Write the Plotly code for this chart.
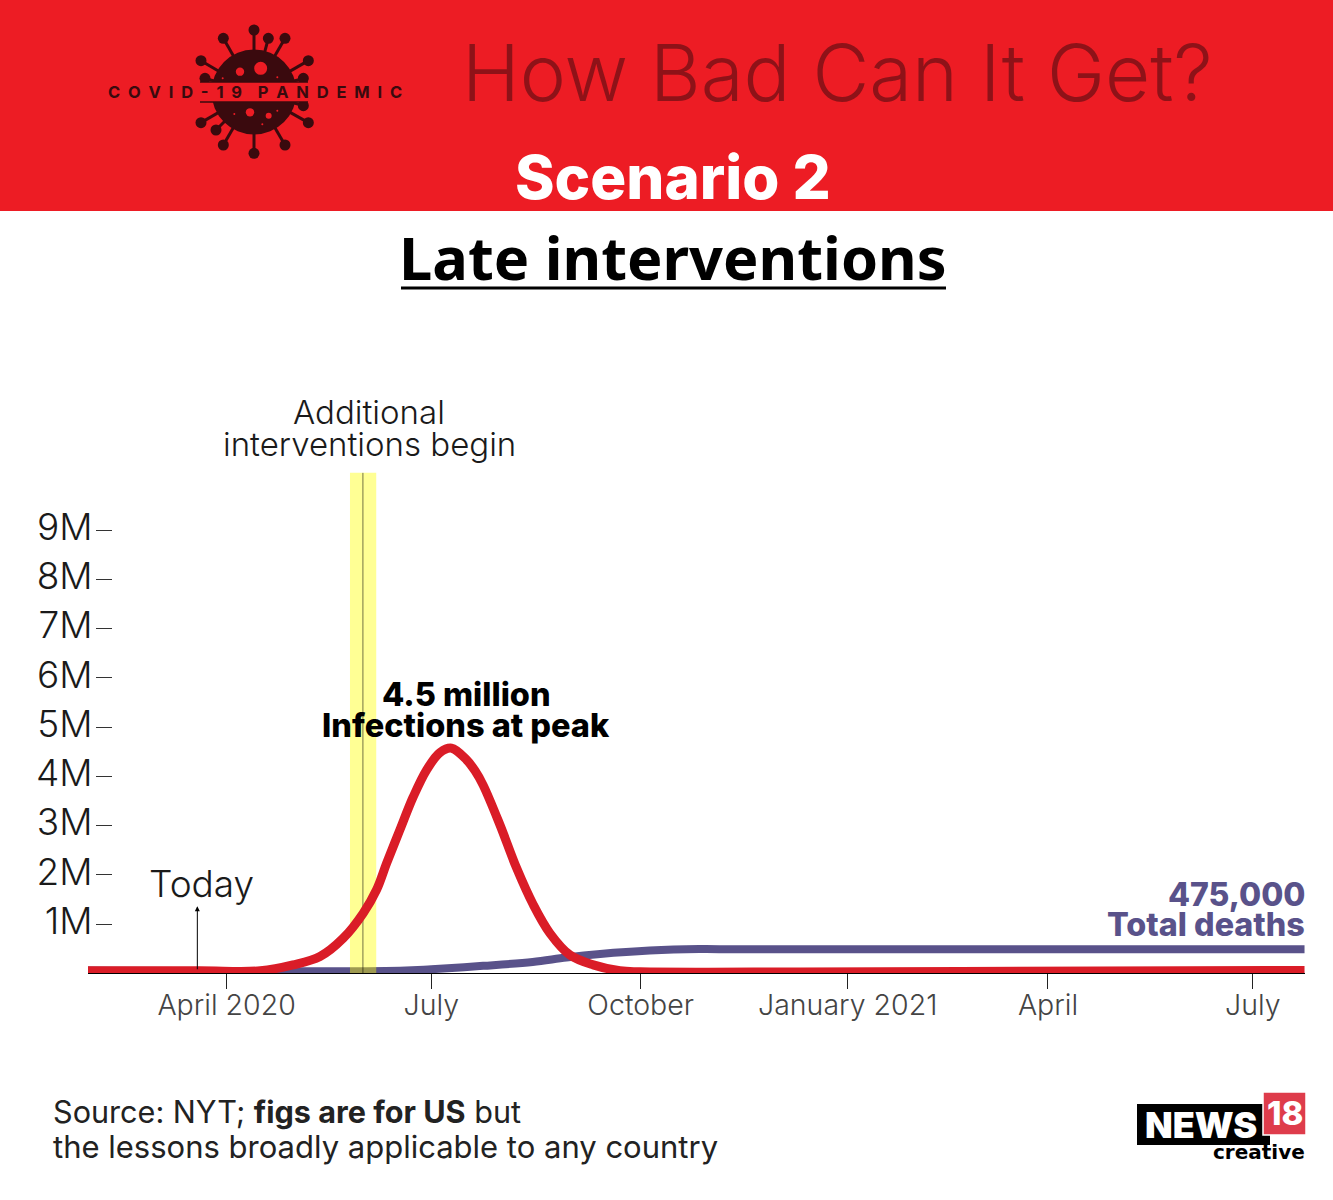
import plotly.graph_objects as go

# ---------- data ----------
infection_dates = ["2020-01-30","2020-03-20","2020-04-16","2020-04-30 12:00","2020-05-12 12:00","2020-05-22 19:00","2020-05-31 17:00",
                   "2020-06-06 17:00","2020-06-11 02:00","2020-06-17","2020-06-22 22:00","2020-06-28 22:00","2020-07-04 19:00","2020-07-10",
                   "2020-07-16 17:00","2020-07-20 10:00","2020-07-24","2020-07-31 12:00","2020-08-07 22:00","2020-08-15 07:00","2020-08-22 17:00",
                   "2020-08-31 14:00","2020-09-10 22:00","2020-09-22 19:00","2020-10-01 17:00","2020-12-12","2021-04-24","2021-07-24"]
infections_m = [0.05,0.05,0.05,0.17,0.34,0.71,1.22,1.70,2.23,2.91,3.58,4.13,4.48,4.57,4.33,4.11,3.82,3.01,2.13,1.39,0.81,
                0.37,0.17,0.05,0.03,0.025,0.045,0.055]
death_dates = ["2020-01-30","2020-06-17","2020-07-01","2020-07-24","2020-08-15","2020-08-30","2020-09-14",
               "2020-10-06","2020-10-28","2020-11-12","2020-12-12","2021-07-24"]
deaths_m = [0.055,0.05,0.08,0.15,0.23,0.32,0.39,0.46,0.49,0.487,0.487,0.487]
x_tick_dates = ["2020-04-01","2020-07-01","2020-10-02","2021-01-02","2021-04-01","2021-07-01"]
x_tick_labels = ["April 2020","July","October","January 2021","April","July"]
y_tick_vals = [1,2,3,4,5,6,7,8,9]
y_tick_labels = ["1M","2M","3M","4M","5M","6M","7M","8M","9M"]
x_range = ["2020-01-30 10:00","2021-07-24 05:00"]
band_dates = ["2020-05-25 20:00","2020-06-06 12:00"]
intervention_date = "2020-05-31 14:00"
today_date = "2020-03-19"
band_top = 10.16

# ---------- style ----------
W, H = 1333, 1200
RED_BG = "#ED1C24"; DARK_RED = "#8E1218"; LOGO = "#3A0A0E"
RED = "#DA1C27"; PURPLE = "#59528A"
LIGHT = "Inter"; HEAVY = "Inter"
def px(x): return x / W
def py(y): return 1 - y / H

fig = go.Figure()
fig.add_trace(go.Scatter(x=death_dates, y=deaths_m, mode="lines", cliponaxis=False,
                         line=dict(color=PURPLE, width=8, shape="spline", smoothing=1.0, simplify=False), showlegend=False))
fig.add_trace(go.Scatter(x=[band_dates[0], band_dates[0], band_dates[1], band_dates[1]], y=[0.0, band_top, band_top, 0.0],
                         mode="none", fill="toself", fillcolor="rgba(255,255,0,0.42)", cliponaxis=False, showlegend=False))
fig.add_trace(go.Scatter(x=[intervention_date, intervention_date], y=[0.0, band_top], mode="lines", cliponaxis=False,
                         line=dict(color="rgba(0,0,0,0.55)", width=1), showlegend=False))
fig.add_trace(go.Scatter(x=infection_dates, y=infections_m, mode="lines", cliponaxis=False,
                         line=dict(color=RED, width=9, shape="spline", smoothing=1.0, simplify=False), showlegend=False))

shapes = [dict(type="rect", xref="paper", yref="paper", x0=0, x1=1, y0=py(211), y1=1, fillcolor=RED_BG, line_width=0, layer="below"),
          dict(type="line", xref="paper", yref="paper", x0=px(401), x1=px(946), y0=py(288), y1=py(288), line=dict(color="black", width=3))]

# logo drawing (decorative): virus
cx, cy = 254, 92
blobs = [(492,60),(535,85),(400,85),(585,85),(333,152),(655,152),(345,205),(640,205),
         (640,287),(333,338),(655,338),(378,360),(400,405),(585,405),(492,430)]
def circ(x, y, r, col):
    return dict(type="circle", xref="paper", yref="paper", x0=px(x-r), x1=px(x+r), y0=py(y+r), y1=py(y-r), fillcolor=col, line_width=0)
for zx, zy in blobs:
    bx, by = 90 + zx/3, 10 + zy/3
    shapes.append(dict(type="line", xref="paper", yref="paper", x0=px(cx), y0=py(cy), x1=px(bx), y1=py(by), line=dict(color=LOGO, width=3)))
    shapes.append(circ(bx, by, 5.5, LOGO))
shapes.append(circ(cx, cy, 42.5, LOGO))
for zx, zy, r in [(512,175,6.5),(450,185,4.2),(480,307,4.2),(536,317,3),(398,205,1),(562,202,1),(433,312,1),(562,302,1),(517,343,1)]:
    shapes.append(circ(90 + zx/3, 10 + zy/3, r, RED_BG))
shapes.append(dict(type="rect", xref="paper", yref="paper", x0=px(190), x1=px(318), y0=py(102), y1=py(82), fillcolor=RED_BG, line_width=0))
for yy in (82, 102):
    shapes.append(dict(type="line", xref="paper", yref="paper", x0=px(200), x1=px(308), y0=py(yy), y1=py(yy), line=dict(color=LOGO, width=1.5)))

# logo drawing: News18
shapes.append(dict(type="rect", xref="paper", yref="paper", x0=px(1137), x1=px(1270), y0=py(1145), y1=py(1104), fillcolor="black", line_width=0))
shapes.append(dict(type="rect", xref="paper", yref="paper", x0=px(1263), x1=px(1306), y0=py(1135), y1=py(1092), fillcolor="#DE3C4B", line=dict(color="white", width=1.5)))

def txt(x, y, text, size, color="#111", anchor="center", weight=300, family=LIGHT):
    return dict(x=px(x), y=py(y), xref="paper", yref="paper", text=text, showarrow=False, xanchor=anchor, yanchor="middle",
                font=dict(size=size, color=color, family=family, weight=weight), align=anchor)

nb = "\u00a0\u00a0"
logo_text = nb.join("COVID-19") + nb + nb + nb.join("PANDEMIC")
annots = [
    txt(837, 73, "How Bad Can It Get?", 78, DARK_RED),
    txt(673, 177, "Scenario 2", 60, "white", weight=800, family=HEAVY),
    txt(673, 256, "Late interventions", 59.5, "black", weight=700, family="Noto Sans"),
    txt(255, 92, logo_text, 16.5, LOGO, weight=700),
    txt(369, 412, "Additional", 33, "#1a1a1a"),
    txt(369, 444, "interventions begin", 33, "#1a1a1a"),
    txt(202, 883, "Today", 37, "#1a1a1a"),
    txt(466, 694, "4.5 million", 32.5, "black", weight=800, family=HEAVY),
    txt(466, 725, "Infections at peak", 32.5, "black", weight=800, family=HEAVY),
    txt(1307, 894, "475,000", 32, PURPLE, "right", weight=800, family=HEAVY),
    txt(1307, 924, "Total deaths", 32.3, PURPLE, "right", weight=800, family=HEAVY),
    txt(51, 1111, "Source: NYT; <b>figs are for US</b> but", 30.6, "#222", "left", weight=400),
    txt(51, 1146, "the lessons broadly applicable to any country", 31, "#222", "left", weight=400),
    txt(1201, 1125, "NEWS", 36, "white", weight=900, family=HEAVY),
    txt(1285, 1113, "18", 33, "white", weight=800, family=HEAVY),
    txt(1307, 1152, "creative", 20, "black", "right", weight=900, family="DejaVu Sans"),
    dict(x=today_date, y=1.36, ax=today_date, ay=0.05, xref="x", yref="y", axref="x", ayref="y", text="", showarrow=True,
         arrowhead=2, arrowsize=1, arrowwidth=1, arrowcolor="black"),
]

y0_px, top_px = 973.25, 973.25 - 10.4 * 49.25
fig.update_layout(
    width=W, height=H, margin=dict(l=0, r=0, t=0, b=0), paper_bgcolor="white", plot_bgcolor="rgba(0,0,0,0)",
    showlegend=False, shapes=shapes, annotations=annots,
    xaxis=dict(type="date", range=x_range, domain=[px(88), px(1305)], tickmode="array", tickvals=x_tick_dates, ticktext=x_tick_labels,
               ticks="outside", ticklen=15, tickwidth=1, tickcolor="#222", showline=True, linecolor="black", linewidth=1,
               showgrid=False, zeroline=False, ticklabelstandoff=-8, tickfont=dict(family=LIGHT, size=28.5, color="#444", weight=300)),
    yaxis=dict(range=[0, 10.4], domain=[py(y0_px), py(top_px)], anchor="free", position=px(112), tickmode="array",
               tickvals=y_tick_vals, ticktext=y_tick_labels, ticks="outside", ticklen=16, tickwidth=1, tickcolor="#333",
               showline=False, showgrid=False, zeroline=False, ticklabelshift=-3, ticklabelstandoff=-4,
               tickfont=dict(family=LIGHT, size=37, color="#1a1a1a", weight=300)),
)
fig.write_html("out.html", config={"displayModeBar": False}, post_script="document.body.style.margin='0';")
